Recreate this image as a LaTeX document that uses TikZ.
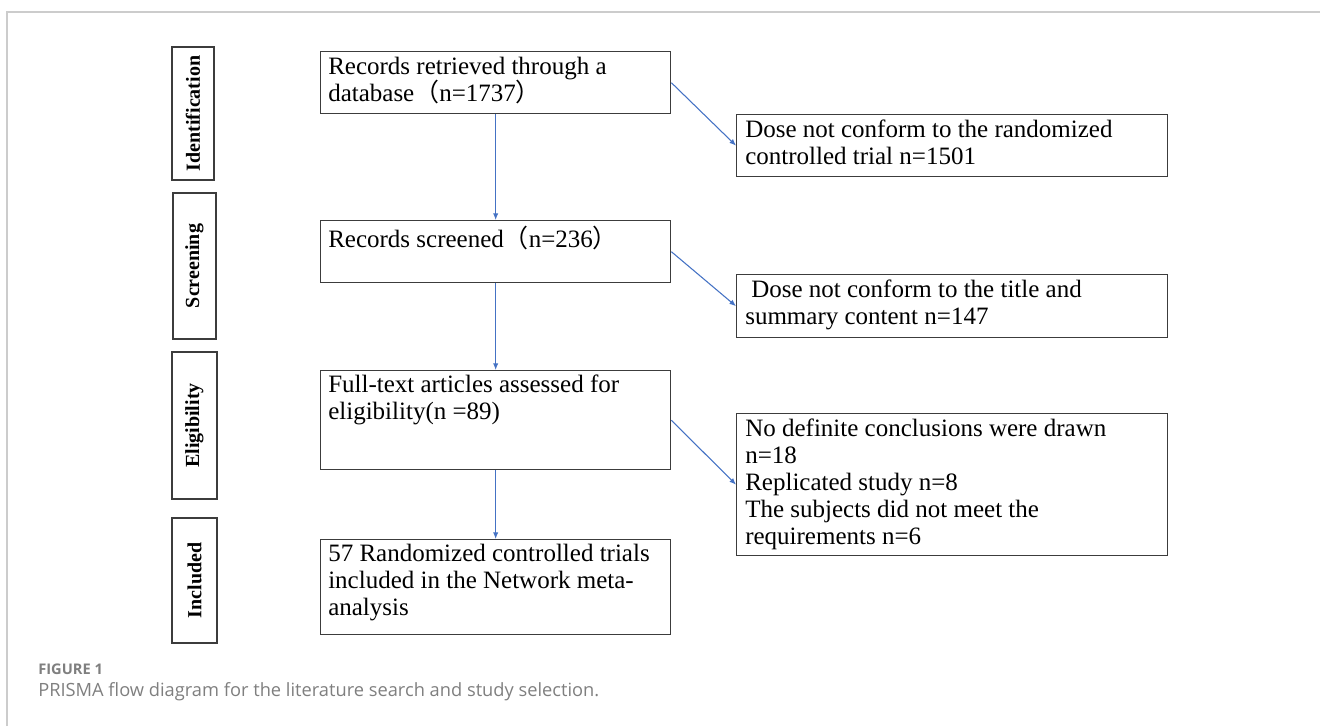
\documentclass[tikz,border=0pt]{standalone}
\usepackage{fontspec}
\setmainfont{Liberation Serif}
\newfontfamily\cjkfont{Noto Sans CJK SC}
\newfontfamily\capfont{Open Sans}
\usetikzlibrary{arrows.meta, calc}
\definecolor{arrowblue}{HTML}{4472C4}
\definecolor{boxgray}{HTML}{3C3C3C}
\definecolor{capgray}{HTML}{7F7F7F}

\begin{document}
\begin{tikzpicture}[
    x=0.75pt, y=-0.75pt,
    >={Latex[length=5pt,width=4pt]},
    box/.style={rectangle, draw=boxgray, line width=1pt, inner sep=0pt, anchor=north west},
    stage/.style={rectangle, draw=boxgray, line width=1pt, inner sep=0pt, rotate=90, font=\fontsize{15}{18}\selectfont\bfseries},
    txt/.style={anchor=north west, inner sep=0pt, align=left, font=\fontsize{18.75}{20.25}\selectfont, execute at begin node=\strut},
    flow/.style={->, draw=arrowblue, line width=0.8pt}
  ]
  \useasboundingbox (0,0) rectangle (1320,726);
  % frame
  \draw[gray!40, line width=0.8pt] (7,726) -- (7,12) -- (1320,12);

  % stage labels
  \node[stage, minimum width=99.75pt, minimum height=31.5pt] (ident) at (193,113.5) {Identification};
  \node[stage, minimum width=109.5pt, minimum height=32.25pt] (screen) at (194.5,266) {Screening};
  \node[stage, minimum width=110.25pt, minimum height=33.75pt] (elig) at (194.5,425.5) {Eligibility};
  \node[stage, minimum width=93.75pt, minimum height=33.75pt] (incl) at (194.5,580.5) {Included};

  % main column
  \node[box, minimum width=262.5pt, minimum height=46.5pt] (rec) at (320,51) {};
  \node[txt] (rec-t) at ($(rec.north west)+(8,6)$) {Records retrieved through a\\database{\cjkfont （}n=1737{\cjkfont ）}};
  \node[box, minimum width=262.5pt, minimum height=46.5pt] (scr) at (320,220) {};
  \node[txt] (scr-t) at ($(scr.north west)+(8,6)$) {Records screened{\cjkfont （}n=236{\cjkfont ）}};
  \node[box, minimum width=262.5pt, minimum height=74.25pt] (full) at (320,370) {};
  \node[txt] (full-t) at ($(full.north west)+(8,5)$) {Full-text articles assessed for\\eligibility(n =89)};
  \node[box, minimum width=262.5pt, minimum height=71.25pt] (nma) at (320,539) {};
  \node[txt] (nma-t) at ($(nma.north west)+(8,5)$) {57 Randomized controlled trials\\included in the Network meta-\\analysis};

  % excluded column
  \node[box, minimum width=323.25pt, minimum height=46.5pt] (exrct) at (736,114) {};
  \node[txt] (exrct-t) at ($(exrct.north west)+(9,6)$) {Dose not conform to the randomized\\controlled trial n=1501};
  \node[box, minimum width=323.25pt, minimum height=47.25pt] (extitle) at (736,274) {};
  \node[txt] (extitle-t) at ($(extitle.north west)+(9,6)$) {\hspace{4.5pt}Dose not conform to the title and\\summary content n=147};
  \node[box, minimum width=323.25pt, minimum height=106.5pt] (exfull) at (736,413) {};
  \node[txt] (exfull-t) at ($(exfull.north west)+(9,6)$) {No definite conclusions were drawn\\n=18\\Replicated study n=8\\The subjects did not meet the\\requirements n=6};

  % arrows
  \draw[flow] (rec.south) -- (scr.north);
  \draw[flow] (scr.south) -- (full.north);
  \draw[flow] (full.south) -- (nma.north);
  \draw[flow] (rec.east) -- (exrct.west);
  \draw[flow] (scr.east) -- (extitle.west);
  \draw[flow] (full.east) -- (exfull.west);

  % caption
  \node[anchor=base west, inner sep=0pt, text=capgray, font=\capfont\bfseries\fontsize{11}{13}\selectfont] (figlab) at (38,674) {FIGURE 1};
  \node[anchor=base west, inner sep=0pt, text=capgray, font=\capfont\fontsize{13.7}{16}\selectfont] (caption) at (38,696) {PRISMA flow diagram for the literature search and study selection.};
\end{tikzpicture}
\end{document}
